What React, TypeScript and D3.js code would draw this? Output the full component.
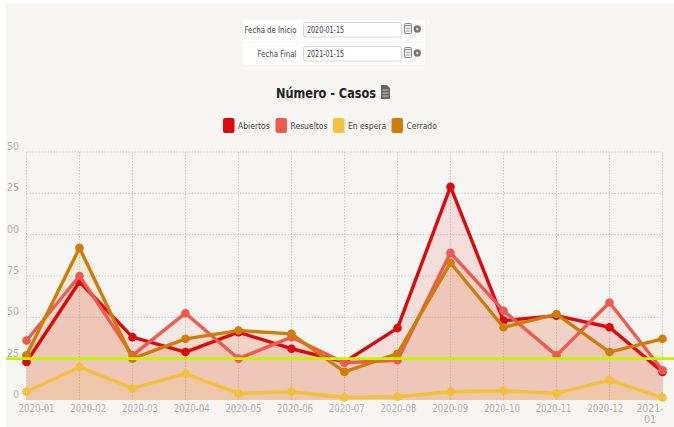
import * as d3 from "d3";

const months = ["2020-01", "2020-02", "2020-03", "2020-04", "2020-05", "2020-06", "2020-07", "2020-08", "2020-09", "2020-10", "2020-11", "2020-12", "2021-01"];
const abiertos = [23, 71.5, 38, 29, 41, 31, 23, 43.5, 129, 48, 51, 44, 17];
const resueltos = [36, 75, 27, 52.5, 25, 38, 22.5, 24, 89, 54, 27, 59, 18];
const enEspera = [5, 20, 7, 16, 4, 5, 1.5, 2, 5, 5.6, 4, 12, 1.5];
const cerrado = [27, 92, 25, 37, 42, 40, 17, 28, 83, 44, 52, 29, 37];
const yTicks = [0, 25, 50, 75, 100, 125, 150];
const legendNames = ["Abiertos", "Resueltos", "En espera", "Cerrado"];
const legendColors = ["#dc0a0a", "#f0594f", "#f2c23c", "#cf7c08"];
const limit = 25;

const font = "'DejaVu Sans Condensed', 'DejaVu Sans', sans-serif";

const App = () => {
  const width = 674, height = 427;
  const x = d3.scalePoint<string>().domain(months).range([26.5, 662.5]);
  // the month labels sit on a tighter spacing than the ticks in the reference
  const labelX = d3.scalePoint<string>().domain(months).range([36.6, 657]);
  const y = d3.scaleLinear().domain([0, 150]).range([400, 152]);
  const seriesList = [abiertos, resueltos, enEspera, cerrado];

  const line = d3.line<number>().x((_, i) => x(months[i])!).y(d => y(d));
  const area = d3.area<number>().x((_, i) => x(months[i])!).y0(y(0)).y1(d => y(d));

  const dateRows = [
    { label: "Fecha de Inicio", labelWidth: 52, value: "2020-01-15", top: 22.5 },
    { label: "Fecha Final", labelWidth: 39, value: "2021-01-15", top: 46.5 },
  ];
  const legendX = [223, 275.5, 333, 391.5];

  return (
    <svg width={width} height={height} style={{ position: "absolute", left: 0, top: 0 }}>
      <rect width={width} height={height} fill="#ffffff" />
      <rect x={6} y={3} width={668} height={424} fill="#f7f6f3" />

      <rect x={243} y={20} width={182} height={22} fill="#ffffff" />
      <rect x={243} y={43} width={182} height={22} fill="#ffffff" />
      {dateRows.map(r => (
        <g key={r.label}>
          <text x={296.5} y={r.top + 10.5} textAnchor="end" fontFamily={font} fontSize={8.5} fill="#444" textLength={r.labelWidth} lengthAdjust="spacingAndGlyphs">{r.label}</text>
          <rect x={303.5} y={r.top} width={98} height={14.5} rx={2} fill="#fff" stroke="#d5d8dc" />
          <text x={307} y={r.top + 10.5} fontFamily={font} fontSize={8.5} fill="#444" textLength={37} lengthAdjust="spacingAndGlyphs">{r.value}</text>
          <rect x={404.5} y={r.top + 1} width={7} height={10} rx={1} fill="#eee" stroke="#888" />
          <line x1={404.5} x2={411.5} y1={r.top + 3} y2={r.top + 3} stroke="#888" />
          <line x1={406} x2={410} y1={r.top + 6} y2={r.top + 6} stroke="#aaa" />
          <line x1={406} x2={410} y1={r.top + 8.5} y2={r.top + 8.5} stroke="#aaa" />
          <circle cx={417.3} cy={r.top + 6.5} r={3.7} fill="#777" />
          <circle cx={417.3} cy={r.top + 6.5} r={1.2} fill="#ddd" />
        </g>
      ))}

      <text x={276} y={98} fontFamily={font} fontSize={14.5} fontWeight="bold" fill="#222" textLength={100} lengthAdjust="spacingAndGlyphs">Número - Casos</text>
      <path d="M381 85h6l3 3v11h-9z" fill="#666" />
      <path d="M382.5 90h6M382.5 93h6M382.5 96h6" stroke="#ddd" strokeWidth={0.8} />

      {legendNames.map((n, i) => (
        <g key={n}>
          <rect x={legendX[i]} y={118} width={11.5} height={15} rx={2} fill={legendColors[i]} />
          <text x={legendX[i] + 15} y={128.5} fontFamily={font} fontSize={8.5} fill="#444">{n}</text>
        </g>
      ))}

      {yTicks.map(t => (
        <g key={t}>
          {t > 0 && <line x1={26.5} x2={662.5} y1={y(t)} y2={y(t)} stroke="#cfcfcf" strokeDasharray="1.5 1.5" />}
          <text x={19} y={y(t) - 2} textAnchor="end" fontFamily={font} fontSize={10.5} fill="#b4b4b4">{t}</text>
        </g>
      ))}
      <rect x={0} y={140} width={6} height={270} fill="#ffffff" />
      {months.map(m => (
        <line key={m} x1={x(m)} x2={x(m)} y1={152} y2={400} stroke="#cfcfcf" strokeDasharray="1.5 1.5" />
      ))}

      {seriesList.map((s, i) => (
        <path key={i} d={area(s)!} fill={legendColors[i]} fillOpacity={0.1} />
      ))}
      {seriesList.map((s, i) => (
        <g key={i}>
          <path d={line(s)!} fill="none" stroke={legendColors[i]} strokeWidth={3.4} strokeLinejoin="round" />
          {s.map((v, j) => (
            <circle key={j} cx={x(months[j])} cy={y(v)} r={4.3} fill={legendColors[i]} />
          ))}
        </g>
      ))}

      <line x1={6} x2={674} y1={y(limit)} y2={y(limit)} stroke="#c4f500" strokeWidth={2.8} />

      {months.map(m => {
        const wrapped = m === "2021-01";
        const lx = wrapped ? 650 : labelX(m);
        return wrapped ? (
          <text key={m} x={lx} y={412} textAnchor="middle" fontFamily={font} fontSize={10.5} fill="#b4b4b4">
            <tspan x={lx}>2021-</tspan><tspan x={lx} dy={11}>01</tspan>
          </text>
        ) : (
          <text key={m} x={lx} y={412} textAnchor="middle" fontFamily={font} fontSize={10.5} fill="#b4b4b4" textLength={36} lengthAdjust="spacingAndGlyphs">{m}</text>
        );
      })}
    </svg>
  );
};

export default App;
